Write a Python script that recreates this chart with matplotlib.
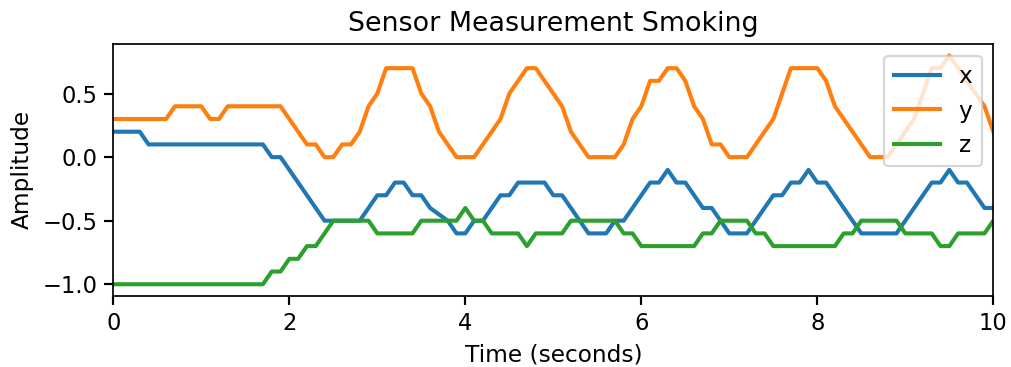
import numpy as np
import matplotlib
matplotlib.use("Agg")
import matplotlib.pyplot as plt

# sampled every 0.1 s from 0 to 10 s
time = np.linspace(0, 10, 101)

x_vals = [0.2, 0.2, 0.2, 0.2, 0.1, 0.1, 0.1, 0.1, 0.1, 0.1,
          0.1, 0.1, 0.1, 0.1, 0.1, 0.1, 0.1, 0.1, 0.0, 0.0,
          -0.1, -0.2, -0.3, -0.4, -0.5, -0.5, -0.5, -0.5, -0.5, -0.4,
          -0.3, -0.3, -0.2, -0.2, -0.3, -0.3, -0.4, -0.45, -0.5, -0.6,
          -0.6, -0.5, -0.5, -0.4, -0.3, -0.3, -0.2, -0.2, -0.2, -0.2,
          -0.3, -0.3, -0.4, -0.5, -0.6, -0.6, -0.6, -0.5, -0.5, -0.4,
          -0.3, -0.2, -0.2, -0.1, -0.2, -0.2, -0.3, -0.4, -0.4, -0.5,
          -0.6, -0.6, -0.6, -0.5, -0.4, -0.3, -0.3, -0.2, -0.2, -0.1,
          -0.2, -0.2, -0.3, -0.4, -0.5, -0.6, -0.6, -0.6, -0.6, -0.6,
          -0.5, -0.4, -0.3, -0.2, -0.2, -0.1, -0.2, -0.2, -0.3, -0.4,
          -0.4]

y_vals = [0.3, 0.3, 0.3, 0.3, 0.3, 0.3, 0.3, 0.4, 0.4, 0.4,
          0.4, 0.3, 0.3, 0.4, 0.4, 0.4, 0.4, 0.4, 0.4, 0.4,
          0.3, 0.2, 0.1, 0.1, 0.0, 0.0, 0.1, 0.1, 0.2, 0.4,
          0.5, 0.7, 0.7, 0.7, 0.7, 0.5, 0.4, 0.2, 0.1, 0.0,
          0.0, 0.0, 0.1, 0.2, 0.3, 0.5, 0.6, 0.7, 0.7, 0.6,
          0.5, 0.4, 0.2, 0.1, 0.0, 0.0, 0.0, 0.0, 0.1, 0.3,
          0.4, 0.6, 0.6, 0.7, 0.7, 0.6, 0.4, 0.3, 0.1, 0.1,
          0.0, 0.0, 0.0, 0.1, 0.2, 0.3, 0.5, 0.7, 0.7, 0.7,
          0.7, 0.6, 0.4, 0.3, 0.2, 0.1, 0.0, 0.0, 0.0, 0.1,
          0.2, 0.3, 0.5, 0.7, 0.7, 0.8, 0.7, 0.6, 0.5, 0.4,
          0.2]

z_vals = [-1.0, -1.0, -1.0, -1.0, -1.0, -1.0, -1.0, -1.0, -1.0, -1.0,
          -1.0, -1.0, -1.0, -1.0, -1.0, -1.0, -1.0, -1.0, -0.9, -0.9,
          -0.8, -0.8, -0.7, -0.7, -0.6, -0.5, -0.5, -0.5, -0.5, -0.5,
          -0.6, -0.6, -0.6, -0.6, -0.6, -0.5, -0.5, -0.5, -0.5, -0.5,
          -0.4, -0.5, -0.5, -0.6, -0.6, -0.6, -0.6, -0.7, -0.6, -0.6,
          -0.6, -0.6, -0.5, -0.5, -0.5, -0.5, -0.5, -0.5, -0.6, -0.6,
          -0.7, -0.7, -0.7, -0.7, -0.7, -0.7, -0.7, -0.6, -0.6, -0.5,
          -0.5, -0.5, -0.5, -0.6, -0.6, -0.7, -0.7, -0.7, -0.7, -0.7,
          -0.7, -0.7, -0.7, -0.6, -0.6, -0.5, -0.5, -0.5, -0.5, -0.5,
          -0.6, -0.6, -0.6, -0.6, -0.7, -0.7, -0.6, -0.6, -0.6, -0.6,
          -0.5]

dpi = 155
fig = plt.figure(figsize=(1011 / dpi, 367 / dpi), dpi=dpi)
ax = fig.add_axes([0.1121, 0.1943, 0.8704, 0.6858])

for vals, name in [(x_vals, "x"), (y_vals, "y"), (z_vals, "z")]:
    ax.plot(time, vals, label=name, lw=1.9)

ax.set_xlim(0, 10)
ax.set_title("Sensor Measurement Smoking", fontsize=12.5)
ax.set_xlabel("Time (seconds)", fontsize=10.8)
ax.set_ylabel("Amplitude", fontsize=10.8)
ax.tick_params(labelsize=10.5, length=4, width=1)
ax.legend(loc="upper right", fontsize=10.8)

fig.savefig("out.png", dpi=dpi)
